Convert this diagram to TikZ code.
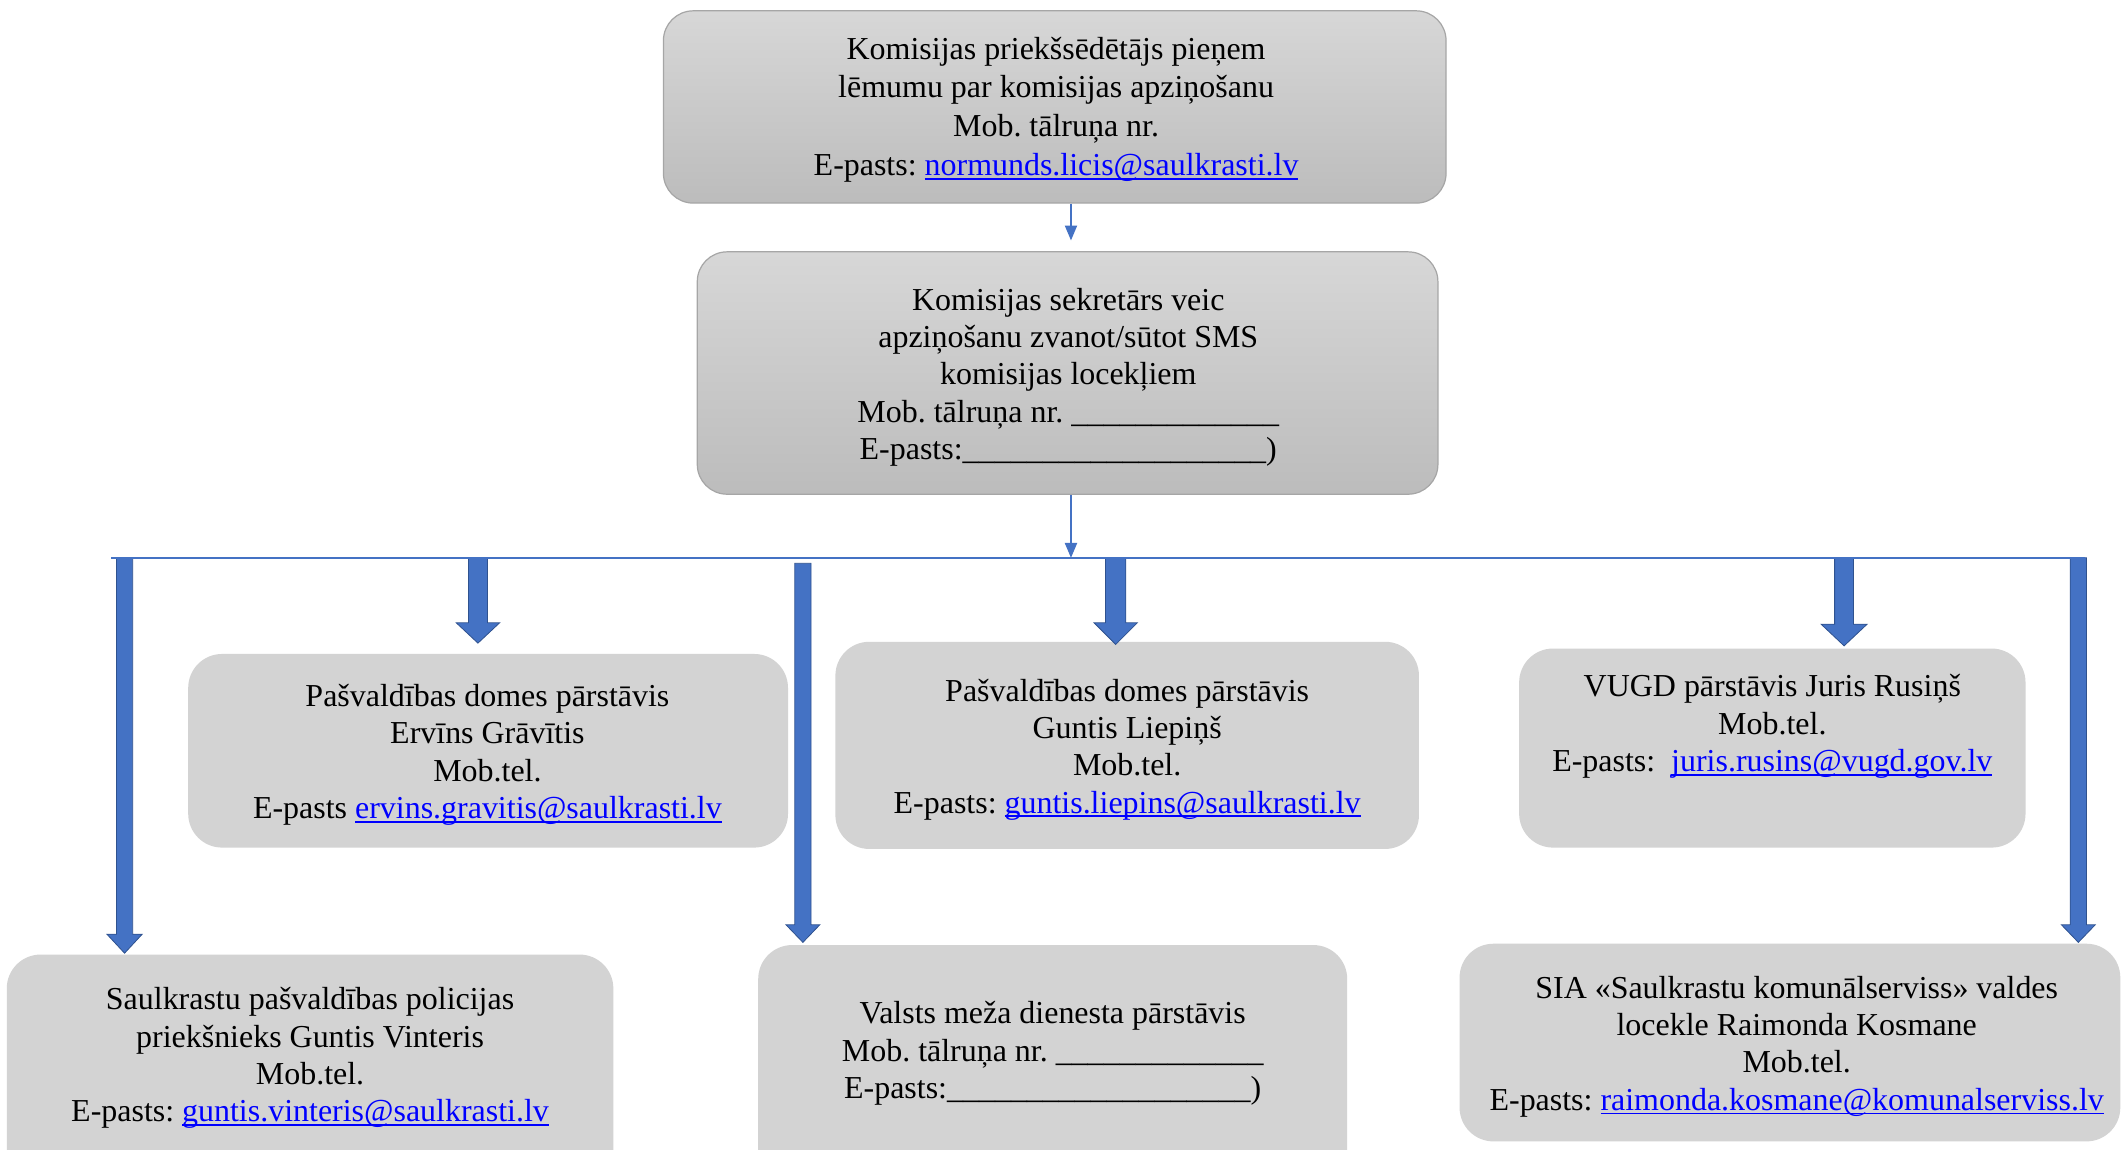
\documentclass[tikz,border=0pt]{standalone}
\usepackage{fontspec}
\setmainfont{Liberation Serif}
\usetikzlibrary{arrows.meta}
\definecolor{arrowblue}{HTML}{4472C4}
\definecolor{arrowedge}{HTML}{2F528F}
\definecolor{linkblue}{HTML}{0000FF}
\definecolor{boxgray}{HTML}{D3D3D3}
\definecolor{gradtop}{HTML}{D7D7D7}
\definecolor{gradbot}{HTML}{BCBCBC}
\definecolor{gradedge}{HTML}{A6A6A6}
\frenchspacing
\newsavebox\lnkbox
\newcommand\lnk[1]{\sbox\lnkbox{\color{linkblue}#1}{\color{linkblue}\rlap{\rule[-3pt]{\wd\lnkbox}{1.3pt}}}\usebox\lnkbox}
\newcommand\barrow[6]{%
  \filldraw[blockarrow] ({#1-#5},#2) -- ({#1+#5},#2) -- ({#1+#5},#3) -- ({#1+#6},#3)
    -- (#1,#4) -- ({#1-#6},#3) -- ({#1-#5},#3) -- cycle;}
\tikzset{
  gbox/.style={rectangle, rounded corners=22pt, top color=gradtop, bottom color=gradbot,
    draw=gradedge, line width=0.9pt, inner sep=0pt},
  fbox/.style={rectangle, rounded corners=25pt, fill=boxgray, inner sep=0pt},
  txt/.style={align=center, inner sep=0pt, font=\fontsize{23.6}{27.6}\selectfont},
  txtwide/.style={align=center, inner sep=0pt, font=\fontsize{23.6}{28.7}\selectfont},
  thinarrow/.style={draw=arrowblue, line width=1.1pt, -{Triangle[width=9pt,length=11pt]}},
  busline/.style={draw=arrowblue, line width=1.1pt},
  blockarrow/.style={fill=arrowblue, draw=arrowedge, line width=0.6pt, line join=miter}
}
\begin{document}
\begin{tikzpicture}[x=1pt, y=-1pt]
\useasboundingbox (0,0) rectangle (1568,849);
\clip (0,0) rectangle (1568,849);
% boxes
\node[gbox, minimum width=578pt, minimum height=142pt] (top) at (779,79) {};
\node[gbox, minimum width=547pt, minimum height=179pt] (sec) at (788.5,275.5) {};
\node[fbox, minimum width=443pt, minimum height=143pt] (b1) at (360.5,554.5) {};
\node[fbox, minimum width=431pt, minimum height=153pt] (b2) at (832.5,550.5) {};
\node[fbox, minimum width=374pt, minimum height=147pt] (b3) at (1309,552.5) {};
\node[fbox, minimum width=448pt, minimum height=175pt] (b4) at (229,792.5) {};
\node[fbox, minimum width=435pt, minimum height=180pt] (b5) at (777.5,788) {};
\node[fbox, minimum width=488pt, minimum height=146pt] (b6) at (1322,770) {};
% texts
\node[txtwide] (topt) at (780,81) {Komisijas priekšsēdētājs pieņem\\lēmumu par komisijas apziņošanu\\Mob. tālruņa nr.\\E-pasts: \lnk{normunds.licis@saulkrasti.lv}};
\node[txt] (sect) at (789,278.5) {Komisijas sekretārs veic\\apziņošanu zvanot/sūtot SMS\\komisijas locekļiem\\Mob. tālruņa nr. \_\_\_\_\_\_\_\_\_\_\_\_\_\\E-pasts:\_\_\_\_\_\_\_\_\_\_\_\_\_\_\_\_\_\_\_)};
\node[txt] (b1t) at (360,557.5) {Pašvaldības domes pārstāvis\\Ervīns Grāvītis\\Mob.tel.\\E-pasts \lnk{ervins.gravitis@saulkrasti.lv}};
\node[txt] (b2t) at (832.5,553.5) {Pašvaldības domes pārstāvis\\Guntis Liepiņš\\Mob.tel.\\E-pasts: \lnk{guntis.liepins@saulkrasti.lv}};
\node[txt] (b3t) at (1309,536.5) {VUGD pārstāvis Juris Rusiņš\\Mob.tel.\\E-pasts:\ \ \lnk{juris.rusins@vugd.gov.lv}};
\node[txt] (b4t) at (229,781.5) {Saulkrastu pašvaldības policijas\\priekšnieks Guntis Vinteris\\Mob.tel.\\E-pasts: \lnk{guntis.vinteris@saulkrasti.lv}};
\node[txt] (b5t) at (777.5,778) {Valsts meža dienesta pārstāvis\\Mob. tālruņa nr. \_\_\_\_\_\_\_\_\_\_\_\_\_\\E-pasts:\_\_\_\_\_\_\_\_\_\_\_\_\_\_\_\_\_\_\_)};
\node[txt] (b6t) at (1327,773) {SIA «Saulkrastu komunālserviss» valdes\\locekle Raimonda Kosmane\\Mob.tel.\\E-pasts: \lnk{raimonda.kosmane@komunalserviss.lv}};
% connectors
\coordinate (cx) at (791,0);
\coordinate (busL) at (82,412);
\coordinate (busR) at (1540,412);
\draw[thinarrow, shorten >=8pt] (top.south -| cx) -- (sec.north -| cx);
% block arrows
\barrow{92}{412}{690}{704}{6}{13}
\barrow{353}{412}{460}{475}{7}{16}
\barrow{593}{416}{683}{696}{6}{12.5}
\barrow{824}{412}{460}{476}{7.5}{16}
\barrow{1362}{412}{461}{477}{7}{17}
\barrow{1535}{412}{683}{696}{6}{12.5}
\draw[busline] (busL) -- (busR);
\draw[thinarrow] (sec.south -| cx) -- (busL -| cx);
\end{tikzpicture}
\end{document}
